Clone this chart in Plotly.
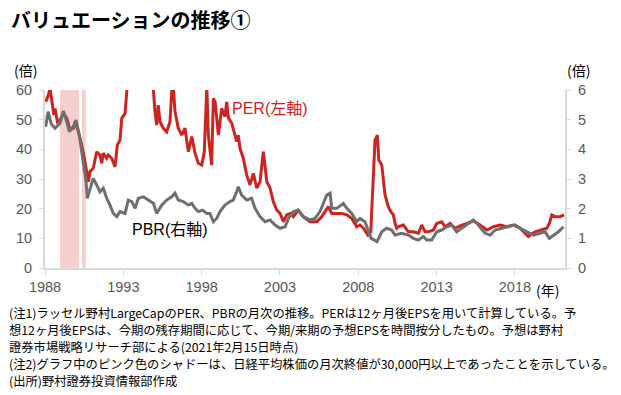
import plotly.graph_objects as go

# ---- data (decimal years) ----
per_years = [1988.04, 1988.20, 1988.32, 1988.49, 1988.57, 1988.64, 1988.79, 1988.96, 1989.17, 1989.39,
             1989.60, 1989.81, 1989.92, 1990.13, 1990.34, 1990.55, 1990.77, 1990.87, 1991.08, 1991.30,
             1991.51, 1991.62, 1991.72, 1991.94, 1992.04, 1992.26, 1992.47, 1992.62, 1992.79, 1992.90,
             1993.11, 1993.26, 1993.60, 1994.00, 1994.50, 1994.85, 1994.92, 1995.02, 1995.13, 1995.23,
             1995.34, 1995.55, 1995.77, 1995.98, 1996.09, 1996.19, 1996.30, 1996.51, 1996.73, 1996.94,
             1997.15, 1997.37, 1997.58, 1997.79, 1998.01, 1998.17, 1998.33, 1998.43, 1998.64, 1998.75,
             1998.86, 1999.07, 1999.28, 1999.49, 1999.60, 1999.71, 1999.92, 2000.24, 2000.34, 2000.45,
             2000.66, 2000.88, 2001.09, 2001.30, 2001.52, 2001.73, 2001.94, 2002.16, 2002.37, 2002.58,
             2002.80, 2003.01, 2003.22, 2003.43, 2003.65, 2003.86, 2004.17, 2004.49, 2004.92, 2005.35,
             2005.67, 2005.88, 2006.09, 2006.31, 2006.63, 2006.95, 2007.27, 2007.59, 2007.90, 2008.11,
             2008.33, 2008.61, 2008.80, 2008.96, 2009.07, 2009.22, 2009.31, 2009.50, 2009.71, 2009.92,
             2010.08, 2010.24, 2010.35, 2010.46, 2010.56, 2010.88, 2011.20, 2011.52, 2011.84, 2012.05,
             2012.27, 2012.48, 2012.80, 2013.01, 2013.33, 2013.54, 2013.86, 2014.18, 2014.50, 2014.93,
             2015.35, 2015.78, 2016.21, 2016.63, 2017.06, 2017.48, 2017.90, 2018.33, 2018.86, 2019.29,
             2019.72, 2020.04, 2020.20, 2020.36, 2020.57, 2020.89, 2021.14]
per_values = [56.0, 58.0, 60.5, 54.9, 51.6, 53.8, 49.3, 49.9, 52.1, 50.5,
              46.5, 47.1, 49.3, 45.9, 41.5, 35.8, 29.1, 32.5, 33.6, 39.2,
              38.1, 35.3, 38.7, 37.0, 38.1, 37.0, 34.1, 41.5, 43.1, 50.5,
              52.1, 62.0, 75.0, 85.0, 78.0, 66.0, 60.0, 52.7, 48.2, 54.9,
              49.3, 47.1, 45.9, 49.3, 59.4, 61.0, 52.7, 47.1, 44.8, 47.1,
              39.2, 44.3, 38.7, 35.3, 34.7, 39.2, 61.0, 44.8, 34.7, 57.2,
              56.0, 44.8, 53.8, 51.0, 56.0, 50.5, 48.8, 42.6, 44.8, 40.3,
              37.0, 31.3, 28.0, 31.9, 26.9, 29.1, 39.2, 29.1, 26.9, 22.3,
              19.5, 18.4, 15.6, 17.9, 18.4, 17.3, 19.5, 17.3, 15.6, 15.6,
              17.3, 19.0, 20.7, 18.4, 18.4, 18.4, 17.9, 16.7, 13.9, 14.5,
              13.4, 11.1, 12.2, 29.7, 43.1, 44.8, 36.4, 34.7, 24.6, 20.7,
              19.0, 17.9, 15.0, 13.4, 13.9, 14.5, 12.2, 12.2, 11.7, 14.5,
              12.2, 12.2, 12.8, 15.0, 15.6, 13.9, 15.0, 13.4, 14.2, 15.0,
              15.9, 14.5, 12.8, 13.9, 14.5, 13.9, 14.5, 13.4, 10.6, 12.2,
              12.8, 13.4, 15.0, 17.9, 17.3, 17.3, 17.9]

pbr_years = [1988.04, 1988.20, 1988.40, 1988.64, 1988.96, 1989.17, 1989.39, 1989.55, 1989.81, 1989.98,
             1990.19, 1990.34, 1990.49, 1990.62, 1990.70, 1990.87, 1991.08, 1991.30, 1991.51, 1991.72,
             1991.94, 1992.15, 1992.36, 1992.58, 1992.79, 1993.11, 1993.32, 1993.54, 1993.75, 1993.96,
             1994.28, 1994.60, 1994.92, 1995.13, 1995.45, 1995.77, 1996.09, 1996.30, 1996.51, 1996.83,
             1997.15, 1997.37, 1997.58, 1997.79, 1998.05, 1998.33, 1998.53, 1998.75, 1998.96, 1999.17,
             1999.49, 1999.81, 2000.02, 2000.24, 2000.34, 2000.55, 2000.88, 2001.19, 2001.41, 2001.73,
             2002.05, 2002.37, 2002.69, 2003.01, 2003.33, 2003.54, 2003.86, 2004.17, 2004.49, 2004.92,
             2005.24, 2005.56, 2005.77, 2005.99, 2006.20, 2006.31, 2006.63, 2007.05, 2007.27, 2007.59,
             2007.90, 2008.11, 2008.43, 2008.65, 2008.82, 2009.03, 2009.20, 2009.50, 2009.81, 2010.13,
             2010.35, 2010.77, 2011.20, 2011.52, 2011.84, 2012.16, 2012.37, 2012.69, 2013.01, 2013.33,
             2013.65, 2013.97, 2014.28, 2014.60, 2014.93, 2015.35, 2015.67, 2016.10, 2016.42, 2016.74,
             2017.16, 2017.59, 2018.01, 2018.33, 2018.76, 2019.18, 2019.61, 2019.93, 2020.20, 2020.46,
             2020.78, 2021.10]
pbr_values = [4.76, 5.27, 4.85, 4.71, 4.88, 5.29, 4.93, 4.60, 4.76, 4.99,
              4.48, 3.92, 3.47, 2.91, 2.35, 2.69, 3.02, 2.80, 2.57, 2.69,
              2.35, 2.12, 1.84, 1.73, 1.90, 1.84, 2.29, 2.24, 2.01, 2.35,
              2.40, 2.29, 2.18, 1.84, 2.12, 2.29, 2.40, 2.52, 2.29, 2.24,
              2.12, 2.18, 2.01, 1.90, 1.95, 1.84, 1.84, 1.56, 1.67, 1.90,
              2.12, 2.24, 2.29, 2.57, 2.74, 2.46, 2.29, 2.35, 2.01, 1.73,
              1.56, 1.62, 1.45, 1.34, 1.39, 1.67, 1.90, 1.95, 1.73, 1.62,
              1.67, 1.90, 2.18, 2.46, 2.52, 2.01, 2.01, 2.18, 2.01, 1.84,
              1.56, 1.67, 1.56, 1.22, 1.00, 0.94, 0.89, 1.22, 1.34, 1.28,
              1.11, 1.17, 1.11, 1.00, 0.94, 1.06, 0.94, 0.94, 1.22, 1.28,
              1.39, 1.45, 1.22, 1.34, 1.45, 1.62, 1.45, 1.17, 1.11, 1.28,
              1.34, 1.39, 1.45, 1.34, 1.22, 1.11, 1.17, 1.22, 1.00, 1.11,
              1.22, 1.39]

# periods when Nikkei monthly close >= 30,000
shade_start = [1988.96, 1990.36]
shade_end = [1990.17, 1990.60]

x_ticks = [1988, 1993, 1998, 2003, 2008, 2013, 2018]
left_ticks = [0, 10, 20, 30, 40, 50, 60]
right_ticks = [0, 1, 2, 3, 4, 5, 6]

title_text = "バリュエーションの推移①"
notes = [
    "(注1)ラッセル野村LargeCapのPER、PBRの月次の推移。PERは12ヶ月後EPSを用いて計算している。予",
    "想12ヶ月後EPSは、今期の残存期間に応じて、今期/来期の予想EPSを時間按分したもの。予想は野村",
    "證券市場戦略リサーチ部による(2021年2月15日時点)",
    "(注2)グラフ中のピンク色のシャドーは、日経平均株価の月次終値が30,000円以上であったことを示している。",
    "(出所)野村證券投資情報部作成",
]

RED = "#CC2420"
GRAY = "#6F6F6F"
AXIS = "#D9D9D9"
TICKFONT = dict(family="Liberation Sans, Arial, sans-serif", size=14.5, color="#595959")
JP = "Noto Sans CJK JP"

fig = go.Figure()
fig.add_trace(go.Scatter(x=per_years, y=per_values, mode="lines", name="PER",
                         line=dict(color=RED, width=3), yaxis="y"))
fig.add_trace(go.Scatter(x=pbr_years, y=pbr_values, mode="lines", name="PBR",
                         line=dict(color=GRAY, width=3), yaxis="y2"))

for s, e in zip(shade_start, shade_end):
    fig.add_shape(type="rect", xref="x", yref="y domain", x0=s, x1=e, y0=0, y1=1,
                  fillcolor="#F7CFCF", line=dict(width=0), layer="below")

W, H = 621, 395
L, R, T, B = 45, 56, 90, 127
pw, ph = W - L - R, H - T - B


def px(xp):
    return (xp - L) / pw


def py(yp):
    return (H - B - yp) / ph


ann = []
ann.append(dict(text=f"<b>{title_text}</b>", x=px(9), y=py(20), xref="paper", yref="paper",
                xanchor="left", yanchor="middle", showarrow=False,
                font=dict(family=JP, size=20, color="#000000")))
ann.append(dict(text="(倍)", x=px(25), y=py(70), xref="paper", yref="paper",
                xanchor="center", yanchor="middle", showarrow=False,
                font=dict(family=JP, size=14, color="#000000")))
ann.append(dict(text="(倍)", x=px(578), y=py(70), xref="paper", yref="paper",
                xanchor="center", yanchor="middle", showarrow=False,
                font=dict(family=JP, size=14, color="#000000")))
ann.append(dict(text="(年)", x=px(547), y=py(290), xref="paper", yref="paper",
                xanchor="center", yanchor="middle", showarrow=False,
                font=dict(family=JP, size=14, color="#000000")))
ann.append(dict(text="PER(左軸)", x=2002.37, y=53.9, xref="x", yref="y",
                xanchor="center", yanchor="middle", showarrow=False,
                font=dict(family="Liberation Sans, " + JP, size=16, color=RED)))
ann.append(dict(text="PBR(右軸)", x=1996.01, y=13.0, xref="x", yref="y",
                xanchor="center", yanchor="middle", showarrow=False,
                font=dict(family="Liberation Sans, " + JP, size=16, color="#000000")))
for i, line in enumerate(notes):
    ann.append(dict(text=line, x=px(7), y=py(313 + 17 * i), xref="paper", yref="paper",
                    xanchor="left", yanchor="middle", showarrow=False,
                    font=dict(family=JP, size=12.3, color="#000000")))

fig.update_layout(
    width=W, height=H,
    margin=dict(l=L, r=R, t=T, b=B, pad=0),
    paper_bgcolor="white", plot_bgcolor="white",
    showlegend=False,
    annotations=ann,
    xaxis=dict(range=[1988, 2021.2], tickvals=x_ticks, ticktext=[str(v) for v in x_ticks],
               showline=True, linecolor=AXIS, linewidth=2, ticks="outside", ticklen=5,
               tickcolor=AXIS, tickwidth=1, showgrid=False, zeroline=False, tickfont=TICKFONT),
    yaxis=dict(range=[0, 60], tickvals=left_ticks, showline=True, linecolor=AXIS, linewidth=2,
               ticks="outside", ticklen=4, tickcolor=AXIS, showgrid=False, zeroline=False,
               tickfont=TICKFONT, ticklabelstandoff=4),
    yaxis2=dict(range=[0, 6], tickvals=right_ticks, overlaying="y", side="right", showline=True,
                linecolor=AXIS, linewidth=2, ticks="outside", ticklen=4, tickcolor=AXIS,
                showgrid=False, zeroline=False, tickfont=TICKFONT, ticklabelstandoff=4),
)

fig.write_html("out.html", config={"displayModeBar": False},
               post_script="document.body.style.margin='0';document.body.style.overflow='hidden';")
